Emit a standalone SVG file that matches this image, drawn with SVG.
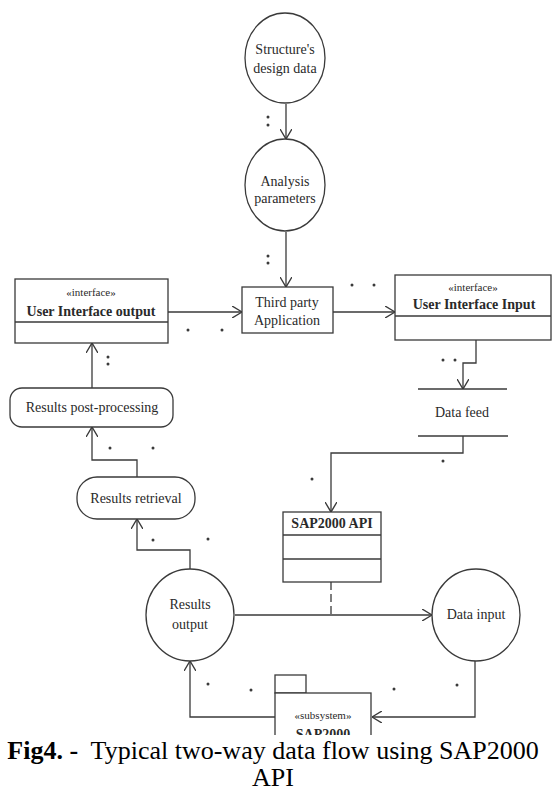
<svg xmlns="http://www.w3.org/2000/svg" width="553" height="789" viewBox="0 0 553 789">
<style>
.shape{fill:#fff;stroke:#3a3a3a;stroke-width:1.3}
.ln{fill:none;stroke:#3a3a3a;stroke-width:1.3}
.arr{marker-end:url(#open)}
.t{font-family:"Liberation Serif","DejaVu Serif",serif;font-size:14px;fill:#2a2a2a;text-anchor:middle}
.b{font-weight:bold}
.s{font-size:11px}
.dot{fill:#3a3a3a}
.cap{font-family:"Liberation Serif","DejaVu Serif",serif;font-size:26px;fill:#000;text-anchor:middle}
</style>
<defs>
<marker id="open" viewBox="0 0 10 12" markerWidth="10" markerHeight="12" refX="10" refY="6" orient="auto" markerUnits="userSpaceOnUse">
<path d="M0,0 L10,6 L0,12" fill="none" stroke="#3a3a3a" stroke-width="1.4"/>
</marker>
<clipPath id="subclip"><rect x="260" y="660" width="130" height="75"/></clipPath>
</defs>
<rect width="553" height="789" fill="#fff"/>
<g id="connectors">
<path class="ln arr" d="M286,104 L286,139"/>
<path class="ln arr" d="M286,232 L286,287"/>
<path class="ln arr" d="M168,312 L242,312"/>
<path class="ln arr" d="M333,312 L395,312"/>
<path class="ln arr" d="M476,340 L476,363 L463,363 L463,389"/>
<path class="ln arr" d="M463,436 L463,453 L331,453 L331,512"/>
<path class="ln" d="M331,582 L331,615" stroke-dasharray="8,4"/>
<path class="ln arr" d="M235,615 L432,615"/>
<path class="ln arr" d="M475,661 L475,717 L372,717"/>
<path class="ln arr" d="M275,717 L190,717 L190,661"/>
<path class="ln arr" d="M190,569 L190,550 L137,550 L137,519"/>
<path class="ln arr" d="M137,477 L137,460 L92,460 L92,427"/>
<path class="ln arr" d="M92,388 L92,343"/>
<g class="dot">
<circle cx="268" cy="117" r="1.5"/><circle cx="268" cy="125" r="1.5"/>
<circle cx="268" cy="256" r="1.5"/><circle cx="268" cy="263" r="1.5"/>
<circle cx="188" cy="330" r="1.5"/><circle cx="222" cy="330" r="1.5"/>
<circle cx="352" cy="285" r="1.5"/><circle cx="374" cy="285" r="1.5"/>
<circle cx="443" cy="360" r="1.5"/><circle cx="455" cy="360" r="1.5"/>
<circle cx="443" cy="461" r="1.5"/><circle cx="312" cy="479" r="1.5"/>
<circle cx="108" cy="357" r="1.5"/><circle cx="108" cy="364" r="1.5"/>
<circle cx="110" cy="448" r="1.5"/><circle cx="153" cy="448" r="1.5"/>
<circle cx="153" cy="540" r="1.5"/><circle cx="208" cy="539" r="1.5"/>
<circle cx="208" cy="684" r="1.5"/><circle cx="251" cy="690" r="1.5"/>
<circle cx="394" cy="689" r="1.5"/><circle cx="457" cy="685" r="1.5"/>
</g>
</g>
<g id="structure-design-data">
<ellipse class="shape" cx="285" cy="58" rx="40" ry="45"/>
<text class="t" x="285" y="54">Structure's</text>
<text class="t" x="285" y="73">design data</text>
</g>
<g id="analysis-parameters">
<ellipse class="shape" cx="285" cy="185" rx="40" ry="46"/>
<text class="t" x="285" y="186">Analysis</text>
<text class="t" x="285" y="203">parameters</text>
</g>
<g id="third-party-application">
<rect class="shape" x="242" y="287" width="91" height="46"/>
<text class="t" x="287" y="307">Third party</text>
<text class="t" x="287" y="325">Application</text>
</g>
<g id="ui-output">
<rect class="shape" x="15" y="279" width="153" height="64"/>
<line class="ln" x1="15" y1="322" x2="168" y2="322"/>
<text class="t s" x="91" y="296">«interface»</text>
<text class="t b" x="91" y="316">User Interface output</text>
</g>
<g id="ui-input">
<rect class="shape" x="395" y="275" width="156" height="65"/>
<line class="ln" x1="395" y1="316" x2="551" y2="316"/>
<text class="t s" x="473" y="291">«interface»</text>
<text class="t b" x="474" y="309">User Interface Input</text>
</g>
<g id="data-feed">
<line class="ln" x1="418" y1="389" x2="507" y2="389"/>
<line class="ln" x1="418" y1="436" x2="508" y2="436"/>
<text class="t" x="462" y="417">Data feed</text>
</g>
<g id="sap2000-api">
<rect class="shape" x="283" y="512" width="98" height="70"/>
<line class="ln" x1="283" y1="535" x2="381" y2="535"/>
<line class="ln" x1="283" y1="559" x2="381" y2="559"/>
<text class="t b" x="332" y="528">SAP2000 API</text>
</g>
<g id="results-output">
<ellipse class="shape" cx="190" cy="615" rx="44" ry="46"/>
<text class="t" x="190" y="609">Results</text>
<text class="t" x="190" y="629">output</text>
</g>
<g id="data-input">
<ellipse class="shape" cx="476" cy="615" rx="44" ry="46"/>
<text class="t" x="476" y="619">Data input</text>
</g>
<g id="results-retrieval">
<rect class="shape" x="77" y="477" width="118" height="42" rx="20" ry="20"/>
<text class="t" x="136" y="503">Results retrieval</text>
</g>
<g id="results-post-processing">
<rect class="shape" x="10" y="388" width="163" height="39" rx="12" ry="12"/>
<text class="t" x="92" y="412">Results post-processing</text>
</g>
<g id="subsystem-sap2000" clip-path="url(#subclip)">
<rect class="shape" x="275" y="675" width="31" height="18"/>
<rect class="shape" x="275" y="693" width="96" height="60"/>
<text class="t s" x="323" y="719">«subsystem»</text>
<text class="t b" x="323" y="739">SAP2000</text>
</g>
<g id="caption">
<text class="cap" x="273" y="759" xml:space="preserve"><tspan font-weight="bold">Fig4. - </tspan> Typical two-way data flow using SAP2000</text>
<text class="cap" x="273" y="786">API</text>
</g>
</svg>
